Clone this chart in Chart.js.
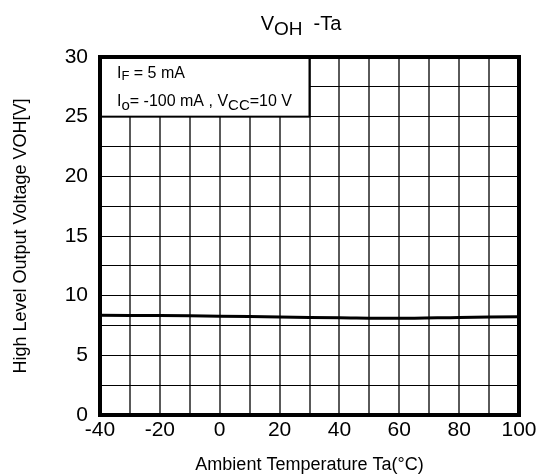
<!DOCTYPE html>
<html>
<head>
<meta charset="utf-8">
<script src="https://cdn.jsdelivr.net/npm/chart.js@4.4.0/dist/chart.umd.min.js"></script>
<style>
  body { margin: 0; background: #fff; }
  canvas { display: block; }
</style>
</head>
<body>
<canvas id="myChart" width="547" height="476"></canvas>
<script>
// Data ------------------------------------ { VOH - Ta }
const temps = [-40, -20, 0, 20, 40, 60, 80, 100];
const vohValues = [8.35, 8.33, 8.28, 8.21, 8.15, 8.1, 8.18, 8.24];
const xLabelTicks = [-40, -20, 0, 20, 40, 60, 80, 100];
const yLabelTicks = [0, 5, 10, 15, 20, 25, 30];
// condition box, in data units
const boxX = [-40, 30];
const boxY = [25, 30];

const FONT = "'Liberation Sans', Arial, sans-serif";

// draw a run of text pieces [text, size, dy] from x at baseline y
function drawRuns(ctx, runs, x, y) {
  runs.forEach((r) => {
    ctx.font = r[1] + "px " + FONT;
    ctx.fillText(r[0], x, y + r[2]);
    x += ctx.measureText(r[0]).width;
  });
}
function runsWidth(ctx, runs) {
  let w = 0;
  runs.forEach((r) => {
    ctx.font = r[1] + "px " + FONT;
    w += ctx.measureText(r[0]).width;
  });
  return w;
}

const extras = {
  id: "extras",
  beforeDatasetsDraw(chart) {
    const { ctx, scales: { x, y } } = chart;
    const l = x.getPixelForValue(boxX[0]);
    const r = x.getPixelForValue(boxX[1]);
    const t = y.getPixelForValue(boxY[1]);
    const b = y.getPixelForValue(boxY[0]);
    ctx.save();
    ctx.fillStyle = "#fff";
    ctx.fillRect(l, t, r - l, b - t);
    ctx.strokeStyle = "#000";
    ctx.lineWidth = 2;
    ctx.strokeRect(l, t, r - l, b - t);
    ctx.fillStyle = "#000";
    ctx.textAlign = "left";
    ctx.textBaseline = "alphabetic";
    drawRuns(ctx, [["I", 16, 0], ["F", 13, 2], [" = 5 mA", 16, 0]], l + 17, t + 21);
    drawRuns(
      ctx,
      [["I", 16, 0], ["o", 15, 4], ["= -100 mA , V", 16, 0], ["CC", 15, 4], ["=10 V", 16, 0]],
      l + 17,
      t + 49
    );
    ctx.restore();
  },
  afterDatasetsDraw(chart) {
    const { ctx, chartArea: a } = chart;
    ctx.save();
    ctx.strokeStyle = "#000";
    ctx.lineWidth = 4;
    ctx.strokeRect(a.left, a.top, a.right - a.left, a.bottom - a.top);
    ctx.restore();
  },
  afterDraw(chart) {
    const { ctx } = chart;
    const runs = [["V", 20, 0], ["OH", 19, 5], ["  -Ta", 20, 0]];
    ctx.save();
    ctx.fillStyle = "#000";
    ctx.textAlign = "left";
    const w = runsWidth(ctx, runs);
    drawRuns(ctx, runs, 301 - w / 2, 30);
    ctx.restore();
  },
};

const ctx = document.getElementById("myChart").getContext("2d");
const myChart = new Chart(ctx, {
  type: "line",
  data: {
    labels: temps,
    datasets: [
      {
        label: "VOH",
        data: temps.map((t, i) => ({ x: t, y: vohValues[i] })),
        borderColor: "#000",
        backgroundColor: "#000",
        borderWidth: 3,
        pointRadius: 0,
        tension: 0.3,
        fill: false,
      },
    ],
  },
  options: {
    responsive: false,
    animation: false,
    events: [],
    layout: {
      padding: { top: 57, right: 28, left: 0, bottom: 0 },
    },
    scales: {
      x: {
        type: "linear",
        min: -40,
        max: 100,
        afterFit: (scale) => {
          scale.height = 61;
        },
        ticks: {
          stepSize: 10,
          autoSkip: false,
          maxRotation: 0,
          padding: 3,
          color: "#000",
          font: { family: FONT, size: 21 },
          callback: (v) => (xLabelTicks.includes(v) ? String(v) : ""),
        },
        grid: {
          color: "#5a5a5a",
          lineWidth: 2,
          drawTicks: false,
        },
        border: { display: false },
        title: {
          display: true,
          text: "Ambient Temperature Ta(°C)",
          color: "#000",
          font: { family: FONT, size: 18 },
          padding: 0,
        },
      },
      y: {
        min: 0,
        max: 30,
        afterFit: (scale) => {
          scale.width = 100;
        },
        ticks: {
          stepSize: 2.5,
          autoSkip: false,
          padding: 12,
          color: "#000",
          font: { family: FONT, size: 21 },
          callback: (v) => (yLabelTicks.includes(v) ? String(v) : ""),
        },
        grid: {
          color: "#000",
          lineWidth: 1,
          drawTicks: false,
        },
        border: { display: false },
        title: {
          display: true,
          text: "High Level Output Voltage VOH[V]",
          color: "#000",
          font: { family: FONT, size: 18 },
          padding: { top: 10, bottom: 0 },
        },
      },
    },
    plugins: {
      legend: { display: false },
      tooltip: { enabled: false },
      title: { display: false },
    },
  },
  plugins: [extras],
});
</script>
</body>
</html>
